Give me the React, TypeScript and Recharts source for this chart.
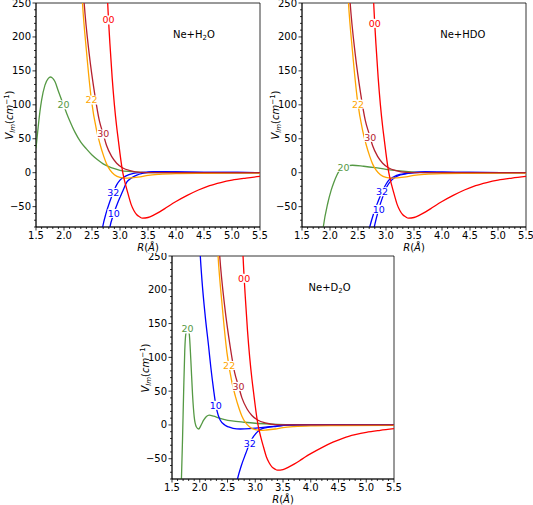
import { LineChart, Line, XAxis, YAxis, ReferenceArea, ReferenceDot } from "recharts";

// curve samples: R in Å, V in cm^-1
const r00 = [2.7, 2.75, 2.78, 2.82, 2.86, 2.9, 2.94, 2.97, 3.0, 3.03, 3.05, 3.1, 3.15, 3.2, 3.25, 3.3, 3.35, 3.4, 3.5, 3.6, 3.7, 3.8, 3.9, 4.0, 4.2, 4.4, 4.6, 4.8, 5.0, 5.25, 5.5];
const v00 = [420, 310, 250, 190, 140, 100, 68, 48, 28, 10, 0, -18, -33, -47, -56, -62, -65, -67, -66, -62.5, -58, -53, -47.5, -42.5, -33.5, -25.5, -19, -14.5, -11, -8, -5.5];

const r30 = [2.3, 2.36, 2.45, 2.55, 2.63, 2.7, 2.76, 2.85, 2.94, 3.05, 3.18, 3.36, 3.6, 4.5, 5.5];
const v30 = [330, 250, 175, 115, 77, 57, 40, 24, 14, 7, 3, 0.5, 0, 0, 0];

const r22 = [2.28, 2.33, 2.4, 2.49, 2.58, 2.64, 2.71, 2.76, 2.82, 2.9, 3.0, 3.1, 3.2, 3.36, 3.5, 3.7, 4.0, 4.5, 5.5];
const v22 = [330, 250, 180, 107, 63, 43, 24, 13, 4, -3, -7, -8, -7.5, -6, -4, -2.5, -1.5, -1, -0.5];

// Ne+H2O
const r20a = [1.5, 1.54, 1.57, 1.6, 1.66, 1.72, 1.76, 1.8, 1.84, 1.9, 1.99, 2.05, 2.1, 2.2, 2.3, 2.4, 2.5, 2.6, 2.7, 2.8, 2.9, 3.0, 3.2, 3.4, 3.6, 4.5, 5.5];
const v20a = [36, 68, 90, 107, 129, 139, 141, 139, 134, 120, 100, 87, 77, 59, 45, 35, 26, 19, 13, 9, 6, 3.5, 1.5, 0.5, 0, 0, 0];
const r32a = [2.65, 2.69, 2.75, 2.82, 2.88, 2.94, 3.0, 3.1, 3.24, 3.4, 3.6, 3.8, 4.0, 4.5, 5.5];
const v32a = [-100, -80, -60, -42, -29, -18, -11, -5, -1, 0.5, 1.5, 1.5, 1.2, 0.6, 0.2];
const r10a = [2.78, 2.82, 2.89, 2.97, 3.05, 3.12, 3.2, 3.3, 3.4, 3.5, 3.7, 4.0, 4.5, 5.5];
const v10a = [-100, -80, -60, -42, -27, -14, -8, -3.5, -1, 0.5, 1.5, 1.2, 0.6, 0.2];

// Ne+HDO
const r20b = [1.85, 1.88, 1.96, 2.02, 2.07, 2.12, 2.16, 2.24, 2.32, 2.4, 2.6, 2.8, 3.0, 3.2, 3.4, 3.6, 4.0, 5.5];
const v20b = [-100, -80, -45, -26, -14, -4, 2, 8, 10.5, 11, 9.5, 7.5, 5, 3, 1.5, 0.5, 0, 0];
const r32b = [2.66, 2.71, 2.78, 2.86, 2.93, 3.0, 3.05, 3.14, 3.25, 3.37, 3.5, 3.7, 4.0, 4.5, 5.5];
const v32b = [-100, -80, -60, -42, -28, -17, -11, -6, -2.5, -1, 0.3, 1, 0.8, 0.4, 0.1];
const r10b = [2.74, 2.79, 2.87, 2.94, 3.02, 3.1, 3.2, 3.37, 3.5, 3.7, 4.0, 4.5, 5.5];
const v10b = [-100, -80, -54, -36, -20, -11, -5, -1.5, 0, 1, 0.8, 0.4, 0.1];

// Ne+D2O
const r20c = [1.66, 1.67, 1.69, 1.71, 1.73, 1.75, 1.78, 1.81, 1.84, 1.87, 1.9, 1.94, 1.98, 2.02, 2.07, 2.12, 2.17, 2.25, 2.34, 2.45, 2.58, 2.8, 3.0, 3.3, 3.6, 4.0, 5.5];
const v20c = [-100, -80, -20, 50, 110, 135, 142, 135, 95, 45, 12, -3, -6, -1, 7, 12.5, 14.5, 13, 10.5, 8, 6, 4, 2.5, 1.2, 0.3, 0, 0];
const r10c = [1.97, 2.01, 2.04, 2.1, 2.16, 2.2, 2.25, 2.29, 2.33, 2.37, 2.45, 2.52, 2.6, 2.73, 2.9, 3.1, 3.33, 3.5, 3.7, 5.5];
const v10c = [320, 250, 214, 160, 116, 85, 52, 29, 15, 7, 0, -3, -5, -6, -5.5, -4, -2, -0.5, 0, 0];
const r32c = [2.63, 2.68, 2.75, 2.83, 2.9, 2.97, 3.03, 3.09, 3.2, 3.39, 3.6, 5.5];
const v32c = [-100, -80, -60, -42, -27, -17, -11, -7, -4, -2, 0, 0];

const xMajor = [1.5, 2.0, 2.5, 3.0, 3.5, 4.0, 4.5, 5.0, 5.5];
const yMajor = [-50, 0, 50, 100, 150, 200, 250];

const RED = "#ff0000";
const DARKRED = "#b5202e";
const ORANGE = "#ffa500";
const BLUE = "#0000ff";
const GREEN = "#559944";

const pts = (r: number[], v: number[]) => r.map((x, i) => ({ r: x, v: v[i] }));

// minor ticks every 0.1 Å / 10 cm^-1
const xTicks: number[] = [];
for (let k = 15; k <= 55; k++) xTicks.push(k / 10);
const yTicks: number[] = [];
for (let k = -8; k <= 25; k++) yTicks.push(k * 10);

const isMajorX = (v: number) => xMajor.some((m) => Math.abs(m - v) < 1e-6);
const isMajorY = (v: number) => yMajor.includes(v);
const fmt = (v: number) => (v < 0 ? "\u2212" + Math.abs(v) : String(v));

const XTick = ({ x, y, payload }: any) => {
  const v = payload.value;
  const major = isMajorX(v);
  return (
    <g>
      <line x1={x} x2={x} y1={y} y2={y + (major ? 3.5 : 2)} stroke="#000" strokeWidth={0.8} />
      {major && (
        <text x={x} y={y + 4.5} dy="0.71em" textAnchor="middle" fontSize={10} fill="#000">
          {v.toFixed(1)}
        </text>
      )}
    </g>
  );
};

const YTick = ({ x, y, payload }: any) => {
  const v = payload.value;
  const major = isMajorY(v);
  return (
    <g>
      <line x1={x} x2={x - (major ? 3.5 : 2)} y1={y} y2={y} stroke="#000" strokeWidth={0.8} />
      {major && (
        <text x={x - 5} y={y} dy="0.35em" textAnchor="end" fontSize={10} fill="#000">
          {fmt(v)}
        </text>
      )}
    </g>
  );
};

type Curve = { id: string; r: number[]; v: number[]; color: string };
type Tag = { text: string; r: number; v: number; color: string };

const curveLabel = (t: Tag) => (p: any) => {
  const w = t.text.length * 5.8 + 1;
  return (
    <g>
      <rect x={p.cx - w / 2} y={p.cy - 4.5} width={w} height={9} fill="#fff" />
      <text x={p.cx} y={p.cy} dy="0.36em" textAnchor="middle" fontSize={9.5} fill={t.color}>
        {t.text}
      </text>
    </g>
  );
};

const titleShape = (pre: string, sub: string, post: string) => (p: any) => (
  <text x={p.cx} y={p.cy} dy="0.35em" textAnchor="middle" fontSize={10} fill="#000">
    {pre}
    {sub && (
      <tspan fontSize={7} dy={2.5}>
        {sub}
      </tspan>
    )}
    {post && <tspan dy={sub ? -2.5 : 0}>{post}</tspan>}
  </text>
);

const Panel = ({ left, top, pw, ph, curves, tags, title, titleR }: any) => {
  const yw = 36;
  const mt = 3;
  const mr = 12;
  const w = yw + pw + mr;
  const h = mt + ph + 32;
  return (
    <div style={{ position: "absolute", left: left - yw, top: top - mt, width: w, height: h }}>
      <LineChart width={w} height={h} margin={{ top: mt, right: mr, bottom: 0, left: 0 }}>
        <XAxis
          dataKey="r"
          type="number"
          domain={[1.5, 5.5]}
          ticks={xTicks}
          interval={0}
          allowDataOverflow
          height={32}
          tickSize={0}
          tickMargin={0}
          tickLine={false}
          tick={<XTick />}
          axisLine={{ stroke: "#000", strokeWidth: 0.8 }}
        />
        <YAxis
          type="number"
          domain={[-80, 250]}
          ticks={yTicks}
          interval={0}
          allowDataOverflow
          width={yw}
          tickSize={0}
          tickMargin={0}
          tickLine={false}
          tick={<YTick />}
          axisLine={{ stroke: "#000", strokeWidth: 0.8 }}
        />
        <ReferenceArea x1={1.5} x2={5.5} y1={-80} y2={250} fill="none" stroke="#000" strokeWidth={0.8} />
        {(curves as Curve[]).map((c) => (
          <Line
            key={c.id}
            data={pts(c.r, c.v)}
            dataKey="v"
            type="monotone"
            stroke={c.color}
            strokeWidth={1.3}
            dot={false}
            activeDot={false}
            isAnimationActive={false}
          />
        ))}
        {(tags as Tag[]).map((t) => (
          <ReferenceDot key={t.text} x={t.r} y={t.v} r={0} shape={curveLabel(t)} />
        ))}
        <ReferenceDot x={titleR} y={204} r={0} shape={titleShape(title[0], title[1], title[2])} />
      </LineChart>
      <div
        style={{
          position: "absolute",
          left: yw - 26,
          top: mt + ph / 2,
          transform: "translate(-50%, -50%) rotate(-90deg)",
          whiteSpace: "nowrap",
          fontSize: 10,
          lineHeight: 1,
        }}
      >
        <i>V</i>
        <sub style={{ fontSize: 7, verticalAlign: "-2px" }}>
          <i>lm</i>
        </sub>
        (<i>cm</i>
        <sup style={{ fontSize: 7, verticalAlign: "4px" }}>{"\u22121"}</sup>)
      </div>
      <div
        style={{
          position: "absolute",
          left: yw + pw / 2,
          top: mt + ph + 21,
          transform: "translate(-50%, -50%)",
          whiteSpace: "nowrap",
          fontSize: 10,
          lineHeight: 1,
        }}
      >
        <i>R</i>(<i>Å</i>)
      </div>
    </div>
  );
};

const common = (r20: number[], v20: number[], r10: number[], v10: number[], r32: number[], v32: number[]): Curve[] => [
  { id: "20", r: r20, v: v20, color: GREEN },
  { id: "32", r: r32, v: v32, color: BLUE },
  { id: "10", r: r10, v: v10, color: BLUE },
  { id: "22", r: r22, v: v22, color: ORANGE },
  { id: "30", r: r30, v: v30, color: DARKRED },
  { id: "00", r: r00, v: v00, color: RED },
];

export default function App() {
  return (
    <div
      style={{
        position: "fixed",
        left: 0,
        top: 0,
        width: 533,
        height: 505,
        overflow: "hidden",
        background: "#fff",
        fontFamily: "'DejaVu Sans', sans-serif",
      }}
    >
      <Panel
        left={36}
        top={3}
        pw={224}
        ph={224}
        title={["Ne+H", "2", "O"]}
        titleR={4.32}
        curves={common(r20a, v20a, r10a, v10a, r32a, v32a)}
        tags={[
          { text: "00", r: 2.795, v: 225, color: RED },
          { text: "22", r: 2.49, v: 107, color: ORANGE },
          { text: "30", r: 2.7, v: 57, color: DARKRED },
          { text: "20", r: 1.99, v: 100, color: GREEN },
          { text: "32", r: 2.88, v: -29, color: BLUE },
          { text: "10", r: 2.89, v: -60, color: BLUE },
        ]}
      />
      <Panel
        left={302}
        top={3}
        pw={224}
        ph={224}
        title={["Ne+HDO", "", ""]}
        titleR={4.37}
        curves={common(r20b, v20b, r10b, v10b, r32b, v32b)}
        tags={[
          { text: "00", r: 2.8, v: 220, color: RED },
          { text: "22", r: 2.5, v: 101, color: ORANGE },
          { text: "30", r: 2.72, v: 52, color: DARKRED },
          { text: "20", r: 2.24, v: 8, color: GREEN },
          { text: "32", r: 2.93, v: -28, color: BLUE },
          { text: "10", r: 2.87, v: -54, color: BLUE },
        ]}
      />
      <Panel
        left={172}
        top={256}
        pw={222}
        ph={223}
        title={["Ne+D", "2", "O"]}
        titleR={4.34}
        curves={common(r20c, v20c, r10c, v10c, r32c, v32c)}
        tags={[
          { text: "00", r: 2.8, v: 217, color: RED },
          { text: "22", r: 2.53, v: 88, color: ORANGE },
          { text: "30", r: 2.7, v: 57, color: DARKRED },
          { text: "20", r: 1.78, v: 142, color: GREEN },
          { text: "10", r: 2.29, v: 29, color: BLUE },
          { text: "32", r: 2.9, v: -27, color: BLUE },
        ]}
      />
    </div>
  );
}
